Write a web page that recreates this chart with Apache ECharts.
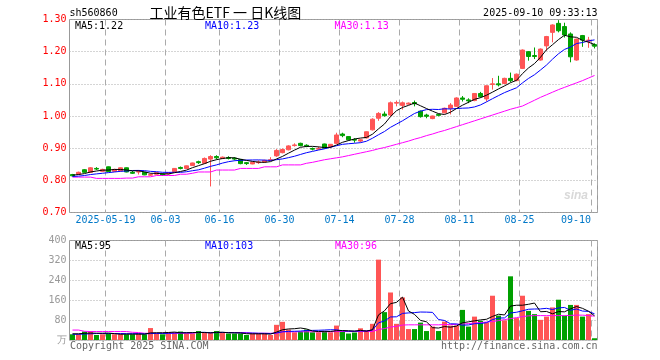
<!DOCTYPE html>
<html>
<head>
<meta charset="utf-8">
<script src="https://cdn.jsdelivr.net/npm/echarts@6/dist/echarts.min.js"></script>
<style>html,body{margin:0;padding:0;background:#fff;}#c{width:660px;height:360px;}</style>
</head>
<body>
<div id="c"></div>
<script>
const dates = [
'2025-05-09','2025-05-12','2025-05-13','2025-05-14','2025-05-15','2025-05-16','2025-05-19','2025-05-20','2025-05-21','2025-05-22',
'2025-05-23','2025-05-26','2025-05-27','2025-05-28','2025-05-29','2025-05-30','2025-06-03','2025-06-04','2025-06-05','2025-06-06',
'2025-06-09','2025-06-10','2025-06-11','2025-06-12','2025-06-13','2025-06-16','2025-06-17','2025-06-18','2025-06-19','2025-06-20',
'2025-06-23','2025-06-24','2025-06-25','2025-06-26','2025-06-27','2025-06-30','2025-07-01','2025-07-02','2025-07-03','2025-07-04',
'2025-07-07','2025-07-08','2025-07-09','2025-07-10','2025-07-11','2025-07-14','2025-07-15','2025-07-16','2025-07-17','2025-07-18',
'2025-07-21','2025-07-22','2025-07-23','2025-07-24','2025-07-25','2025-07-28','2025-07-29','2025-07-30','2025-07-31','2025-08-01',
'2025-08-04','2025-08-05','2025-08-06','2025-08-07','2025-08-08','2025-08-11','2025-08-12','2025-08-13','2025-08-14','2025-08-15',
'2025-08-18','2025-08-19','2025-08-20','2025-08-21','2025-08-22','2025-08-25','2025-08-26','2025-08-27','2025-08-28','2025-08-29',
'2025-09-01','2025-09-02','2025-09-03','2025-09-04','2025-09-05','2025-09-08','2025-09-09','2025-09-10'];

const opens = [
0.818,0.819,0.833,0.825,0.837,0.828,0.842,0.828,0.829,0.839,
0.825,0.826,0.825,0.816,0.819,0.820,0.820,0.827,0.840,0.837,
0.846,0.858,0.853,0.866,0.874,0.868,0.871,0.869,0.865,0.855,
0.851,0.855,0.857,0.862,0.876,0.886,0.895,0.908,0.915,0.909,
0.899,0.897,0.913,0.905,0.915,0.944,0.936,0.927,0.922,0.932,
0.957,0.993,1.006,1.003,1.040,1.033,1.037,1.042,1.015,1.003,
0.992,1.005,1.010,1.024,1.030,1.056,1.050,1.048,1.070,1.053,
1.098,1.100,1.101,1.117,1.110,1.148,1.200,1.188,1.174,1.218,
1.260,1.288,1.278,1.255,1.174,1.250,1.232,1.222];
const closes = [
0.814,0.825,0.825,0.839,0.835,0.834,0.827,0.834,0.839,0.826,
0.822,0.827,0.817,0.818,0.824,0.816,0.824,0.837,0.837,0.845,
0.854,0.855,0.868,0.874,0.870,0.872,0.868,0.866,0.852,0.852,
0.856,0.857,0.862,0.864,0.893,0.896,0.907,0.910,0.908,0.906,
0.897,0.899,0.900,0.912,0.941,0.939,0.926,0.925,0.926,0.951,
0.990,1.008,1.001,1.041,1.042,1.041,1.040,1.038,0.998,0.999,
1.000,1.002,1.024,1.034,1.056,1.052,1.047,1.070,1.060,1.094,
1.100,1.097,1.117,1.110,1.130,1.205,1.185,1.185,1.208,1.247,
1.283,1.265,1.252,1.184,1.239,1.236,1.236,1.217];
const lows = [
0.812,0.817,0.823,0.824,0.832,0.827,0.826,0.826,0.828,0.825,
0.820,0.818,0.816,0.814,0.818,0.814,0.818,0.826,0.834,0.836,
0.845,0.851,0.852,0.781,0.865,0.866,0.865,0.862,0.850,0.848,
0.850,0.851,0.855,0.860,0.873,0.884,0.893,0.905,0.906,0.903,
0.893,0.895,0.899,0.900,0.913,0.934,0.924,0.917,0.918,0.930,
0.955,0.985,0.998,0.998,1.030,1.020,1.035,1.030,0.995,0.993,
0.990,0.999,1.008,1.005,1.028,1.045,1.040,1.046,1.057,1.045,
1.082,1.092,1.099,1.105,1.108,1.146,1.172,1.177,1.172,1.203,
1.229,1.260,1.244,1.167,1.172,1.215,1.212,1.210];
const highs = [
0.820,0.827,0.835,0.841,0.841,0.836,0.843,0.836,0.840,0.840,
0.829,0.832,0.826,0.821,0.825,0.822,0.825,0.838,0.843,0.846,
0.855,0.861,0.871,0.878,0.878,0.874,0.875,0.872,0.866,0.857,
0.858,0.862,0.864,0.872,0.897,0.899,0.909,0.915,0.917,0.912,
0.902,0.905,0.914,0.913,0.948,0.948,0.937,0.931,0.928,0.952,
0.993,1.012,1.014,1.045,1.048,1.045,1.042,1.048,1.017,1.007,
1.001,1.007,1.026,1.040,1.058,1.062,1.055,1.071,1.075,1.095,
1.118,1.125,1.119,1.135,1.132,1.207,1.202,1.213,1.210,1.249,
1.285,1.298,1.290,1.260,1.241,1.252,1.246,1.226];

const ma5 = [
0.816,0.818,0.821,0.826,0.829,0.8316,0.832,0.8338,0.8338,0.832,
0.8296,0.8296,0.8262,0.822,0.8216,0.8204,0.8198,0.8238,0.8276,0.8318,
0.8394,0.8456,0.8518,0.8592,0.8642,0.8678,0.8704,0.870,0.8656,0.862,
0.8588,0.8566,0.8558,0.8582,0.8664,0.8744,0.8844,0.894,0.9028,0.9054,
0.9056,0.904,0.902,0.9028,0.9098,0.9182,0.9236,0.9286,0.9314,0.9334,
0.9436,0.960,0.9752,0.9982,1.0164,1.0266,1.033,1.0404,1.0318,1.0232,
1.015,1.0074,1.0046,1.0118,1.0232,1.0336,1.0426,1.0518,1.057,1.0646,
1.0742,1.0842,1.0936,1.1036,1.1108,1.1318,1.1494,1.163,1.1826,1.206,
1.2216,1.2376,1.251,1.2462,1.2446,1.2352,1.2294,1.2224];
const ma10 = [
0.812,0.813,0.815,0.818,0.820,0.822,0.824,0.826,0.828,0.829,
0.8306,0.8308,0.830,0.8279,0.8268,0.825,0.8247,0.825,0.8248,0.8267,
0.8299,0.8327,0.8378,0.8434,0.848,0.8536,0.858,0.8609,0.8624,0.8631,
0.8633,0.8635,0.8629,0.8619,0.8642,0.8666,0.8705,0.8749,0.8805,0.8859,
0.890,0.8942,0.898,0.9028,0.9076,0.9119,0.9138,0.9153,0.9171,0.9216,
0.9309,0.9418,0.9519,0.9648,0.9749,0.9851,0.9965,1.0078,1.015,1.0198,
1.0208,1.0202,1.0225,1.0218,1.0232,1.0243,1.025,1.0282,1.0344,1.0439,
1.0539,1.0634,1.0727,1.0803,1.0877,1.103,1.1168,1.1283,1.1431,1.1584,
1.1767,1.1935,1.207,1.2144,1.2253,1.2284,1.2335,1.2367];
const ma30 = [
0.810,0.810,0.810,0.810,0.806,0.806,0.806,0.806,0.806,0.807,
0.807,0.811,0.811,0.811,0.815,0.815,0.815,0.815,0.819,0.819,
0.822,0.826,0.826,0.826,0.832,0.832,0.832,0.832,0.837,0.837,
0.837,0.837,0.842,0.842,0.842,0.848,0.848,0.848,0.848,0.853,
0.856,0.860,0.864,0.867,0.870,0.873,0.877,0.881,0.885,0.889,
0.893,0.898,0.902,0.907,0.912,0.917,0.922,0.928,0.933,0.939,
0.944,0.950,0.955,0.961,0.967,0.973,0.979,0.985,0.991,0.997,
1.003,1.009,1.015,1.021,1.026,1.031,1.040,1.049,1.058,1.066,
1.074,1.082,1.089,1.096,1.103,1.110,1.118,1.126];

const volumes = [
23,23,34,36,20,23,26,23,23,23,
23,26,23,48,26,23,31,31,34,26,
26,36,28,28,36,28,26,26,26,20,
26,26,26,20,61,73,42,31,34,42,
31,31,36,31,58,34,26,30,47,40,
65,323,112,191,65,171,44,44,70,36,
54,36,74,58,58,121,54,94,77,71,
178,98,79,256,88,178,117,104,81,94,
131,162,98,141,141,94,104,7];
const volMa5 = [
25,25,27,28,27.2,27.2,27.8,25.6,23,23.6,
23.6,23.6,23.6,28.6,29.2,29.2,30.2,31.8,29,29,
29.6,30.6,30,28.8,30.8,31.2,29.2,28.8,28.4,25.2,
24.8,24.8,24.8,23.6,31.8,41.2,44.4,45.4,48.2,44.4,
36,33.8,34.8,34.2,37.4,38,37,35.8,39,35.4,
41.6,101,117.4,146.2,151.2,172.4,116.6,103,78.8,73,
49.6,48,54,51.6,56,69.4,73,77,80.8,83.4,
94.8,103.6,100.6,136.4,139.8,139.8,143.6,148.6,113.6,114.8,
105.4,114.4,113.2,125.2,134.6,127.2,115.6,97.4];
const volMa10 = [
23,23,24,25,26,26,26,26,26,25.4,
25.4,25.7,24.6,25.8,26.4,26.4,26.9,27.7,28.8,29.1,
29.4,30.4,30.9,28.9,29.9,30.4,29.9,29.4,28.6,28,
28,27,26.8,26,28.5,33,34.6,35.1,35.9,38.1,
38.6,39.1,40.1,41.2,40.9,37,35.4,35.3,36.6,36.4,
39.8,69,76.6,92.6,93.3,107,108.8,110.2,112.5,112.1,
111,82.3,78.5,65.2,64.5,59.5,60.5,65.5,66.2,69.7,
82.1,88.3,88.8,108.6,111.6,117.3,123.6,124.6,125,127.3,
122.6,129,130.9,119.4,124.7,116.3,115,105.3];
const volMa30 = [
40,40,35,34,34,34,34,34,34,34,
31,30,27,27,27,27,27,27,27,27,
27,30,30,30,30,30,30,30,30,30,
27,27,27,27,27,33,33,33,33,33,
33,33,33,33,34,34,34,34,34,34,
34,42,46,52,55,60,61,61,61,61,
61,61,62,62,63,64,66,68,70,72,
74,78,82,86,90,94,97,98,98,98,
98,98,98,99,100,100,98,96];

const tickDates = ['2025-05-19','2025-06-03','2025-06-16','2025-06-30','2025-07-14','2025-07-28','2025-08-11','2025-08-25','2025-09-10'];
const tickLabels = ['2025-05-19','06-03','06-16','06-30','07-14','07-28','08-11','08-25','09-10'];

const RED = '#ff5555', GREEN = '#00a000';
const MONO = '"DejaVu Sans Mono", "Liberation Mono", monospace';

const candleData = dates.map((d, i) => [opens[i], closes[i], lows[i], highs[i]]);
const volData = volumes.map((v, i) => ({ value: v, itemStyle: { color: closes[i] >= opens[i] ? RED : GREEN } }));

const isTick = (idx, val) => tickDates.indexOf(val) >= 0;
const vLine = { show: true, interval: isTick, lineStyle: { color: '#aaaaaa', width: 1, type: [6, 4] } };
const hLine = { show: true, lineStyle: { color: '#aaaaaa', width: 1, type: [1, 2] } };

function txt(text, x, y, color, opts) {
  opts = opts || {};
  return {
    type: 'text', x: x, y: y, silent: true, z: 100,
    style: Object.assign({
      text: text, fill: color,
      font: (opts.size || 10) + 'px ' + (opts.family || MONO),
      align: opts.align || 'left', textAlign: opts.align || 'left',
      verticalAlign: 'middle', textVerticalAlign: 'middle'
    }, opts.extra || {})
  };
}

const chart = echarts.init(document.getElementById('c'), null, { renderer: 'canvas' });
chart.setOption({
  animation: false,
  backgroundColor: '#ffffff',
  grid: [
    { left: 69.5, top: 19.5, width: 528, height: 193, show: true, borderColor: '#999999', borderWidth: 1, backgroundColor: 'transparent' },
    { left: 69.5, top: 240.5, width: 528, height: 99.5, show: true, borderColor: '#999999', borderWidth: 1, backgroundColor: 'transparent' }
  ],
  xAxis: [
    {
      type: 'category', gridIndex: 0, data: dates, boundaryGap: true,
      axisLine: { show: false }, axisTick: { show: false },
      splitLine: vLine,
      axisLabel: {
        show: true, interval: isTick, margin: 3, color: '#0078c8', fontSize: 10, fontFamily: MONO,
        formatter: function (v) {
          const k = tickDates.indexOf(v);
          if (k < 0) return '';
          return k === tickDates.length - 1 ? '{e|' + tickLabels[k] + '}' : '{n|' + tickLabels[k] + '}';
        },
        rich: {
          n: { color: '#0078c8', fontSize: 10, fontFamily: MONO, padding: [0, 6, 0, 0] },
          e: { color: '#0078c8', fontSize: 10, fontFamily: MONO, padding: [0, 37, 0, 0] }
        }
      }
    },
    {
      type: 'category', gridIndex: 1, data: dates, boundaryGap: true,
      axisLine: { show: false }, axisTick: { show: false }, axisLabel: { show: false },
      splitLine: vLine
    }
  ],
  yAxis: [
    {
      type: 'value', gridIndex: 0, min: 0.7, max: 1.3, interval: 0.1, scale: true,
      axisLine: { show: false }, axisTick: { show: false },
      splitLine: hLine,
      axisLabel: { color: '#ff0000', fontSize: 10, fontFamily: MONO, margin: 3, formatter: v => v.toFixed(2) }
    },
    {
      type: 'value', gridIndex: 1, min: 0, max: 400, interval: 80,
      axisLine: { show: false }, axisTick: { show: false },
      splitLine: hLine,
      axisLabel: { color: '#999999', fontSize: 10, fontFamily: MONO, margin: 3, formatter: v => v === 0 ? '万' : String(v) }
    }
  ],
  series: [
    {
      type: 'candlestick', xAxisIndex: 0, yAxisIndex: 0, data: candleData, barWidth: 5,
      itemStyle: { color: RED, color0: GREEN, borderColor: RED, borderColor0: GREEN, borderWidth: 1 }
    },
    { type: 'line', xAxisIndex: 0, yAxisIndex: 0, data: ma30, showSymbol: false, lineStyle: { color: '#ff00ff', width: 1 }, itemStyle: { color: '#ff00ff' } },
    { type: 'line', xAxisIndex: 0, yAxisIndex: 0, data: ma10, showSymbol: false, lineStyle: { color: '#0000ff', width: 1 }, itemStyle: { color: '#0000ff' } },
    { type: 'line', xAxisIndex: 0, yAxisIndex: 0, data: ma5, showSymbol: false, lineStyle: { color: '#000000', width: 1 }, itemStyle: { color: '#000000' } },
    { type: 'bar', xAxisIndex: 1, yAxisIndex: 1, data: volData, barWidth: 5 },
    { type: 'line', xAxisIndex: 1, yAxisIndex: 1, data: volMa30, showSymbol: false, lineStyle: { color: '#ff00ff', width: 1 }, itemStyle: { color: '#ff00ff' } },
    { type: 'line', xAxisIndex: 1, yAxisIndex: 1, data: volMa10, showSymbol: false, lineStyle: { color: '#0000ff', width: 1 }, itemStyle: { color: '#0000ff' } },
    { type: 'line', xAxisIndex: 1, yAxisIndex: 1, data: volMa5, showSymbol: false, lineStyle: { color: '#000000', width: 1 }, itemStyle: { color: '#000000' } }
  ],
  graphic: [
    txt('sh560860', 69.5, 13, '#000000'),
    txt('工业有色ETF 一 日K线图', 149.5, 13, '#000000', { size: 14, family: '"Noto Sans CJK SC", sans-serif' }),
    txt('2025-09-10 09:33:13', 597.5, 13, '#000000', { align: 'right' }),
    txt('MA5:1.22', 75, 26, '#000000'),
    txt('MA10:1.23', 205, 26, '#0000ff'),
    txt('MA30:1.13', 334.5, 26, '#ff00ff'),
    txt('MA5:95', 75, 246.5, '#000000'),
    txt('MA10:103', 205, 246.5, '#0000ff'),
    txt('MA30:96', 335, 246.5, '#ff00ff'),
    txt('Copyright 2025 SINA.COM', 70, 346, '#666666'),
    txt('http://finance.sina.com.cn', 597.5, 346, '#666666', { align: 'right' }),
    txt('sina', 576, 196, '#d9d9d9', { size: 17, family: '"DejaVu Sans", sans-serif', align: 'center', extra: { fontStyle: 'italic', fontWeight: 'bold', font: 'italic bold 17px "DejaVu Sans", sans-serif' } })
  ]
});
</script>
</body>
</html>
